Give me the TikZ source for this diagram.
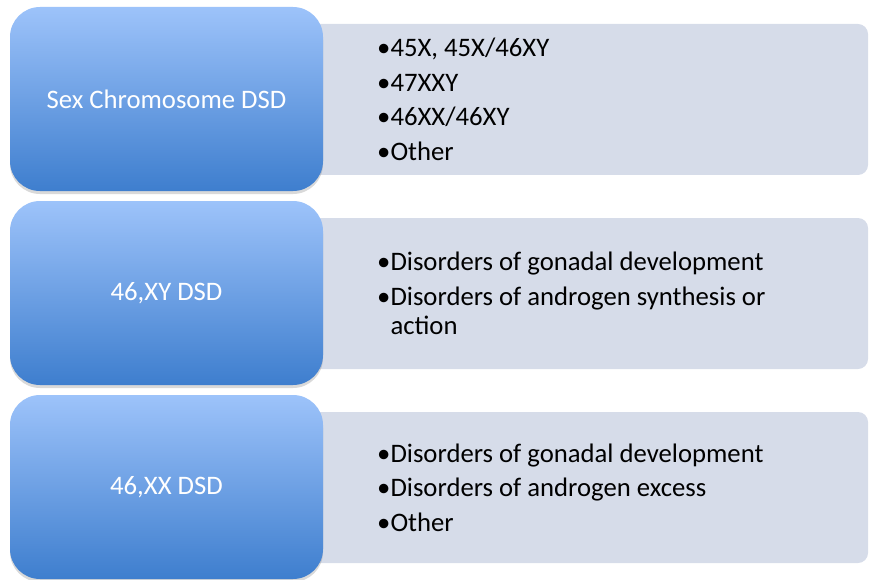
\documentclass[tikz,border=0pt]{standalone}
\usepackage{fontspec}
\setmainfont{Carlito}
\usetikzlibrary{shadows}
\definecolor{classtop}{RGB}{157,195,250}
\definecolor{classbottom}{RGB}{62,126,206}
\definecolor{detailfill}{RGB}{214,220,233}
\newcommand{\dsdrow}[4] % name, centre y in px, class label, items
{
	% light box with the items
	\node[detailbox] (#1list) at (584, #2) {};
	\node[itemtext, anchor=west] (#1items) at (377, #2) {#4};
	% blue box with the class
	\node[classbox] (#1) at (166.5, #2-0.5) {#3};
}

\begin{document}
\begin{tikzpicture}[x=1pt, y=-1pt,
	classbox/.style={rounded corners=30pt, minimum width=313pt, minimum height=184pt,
		top color=classtop, bottom color=classbottom, text=white,
		drop shadow={shadow xshift=0pt, shadow yshift=-3pt, opacity=0.3},
		font=\fontsize{26.7}{29}\selectfont},
	detailbox/.style={rounded corners=10pt, minimum width=568pt, minimum height=151pt,
		fill=detailfill},
	itemtext/.style={align=left, inner sep=0pt, font=\fontsize{26.7}{29}\selectfont}]
	% page: 869 x 580 px
	\useasboundingbox (0, 0) rectangle (869, 580);
	
	\dsdrow{sexchrom}{99.5}{Sex Chromosome DSD}
		{•45X, 45X/46XY\\[5.5pt]•47XXY\\[5.5pt]•46XX/46XY\\[5.5pt]•Other};
	\dsdrow{xy}{293.5}{46,XY DSD}
		{•Disorders of gonadal development\\[5.5pt]•Disorders of androgen synthesis or\\\phantom{•}action};
	\dsdrow{xx}{487.5}{46,XX DSD}
		{•Disorders of gonadal development\\[5.5pt]•Disorders of androgen excess\\[5.5pt]•Other};
	
\end{tikzpicture}
\end{document}
